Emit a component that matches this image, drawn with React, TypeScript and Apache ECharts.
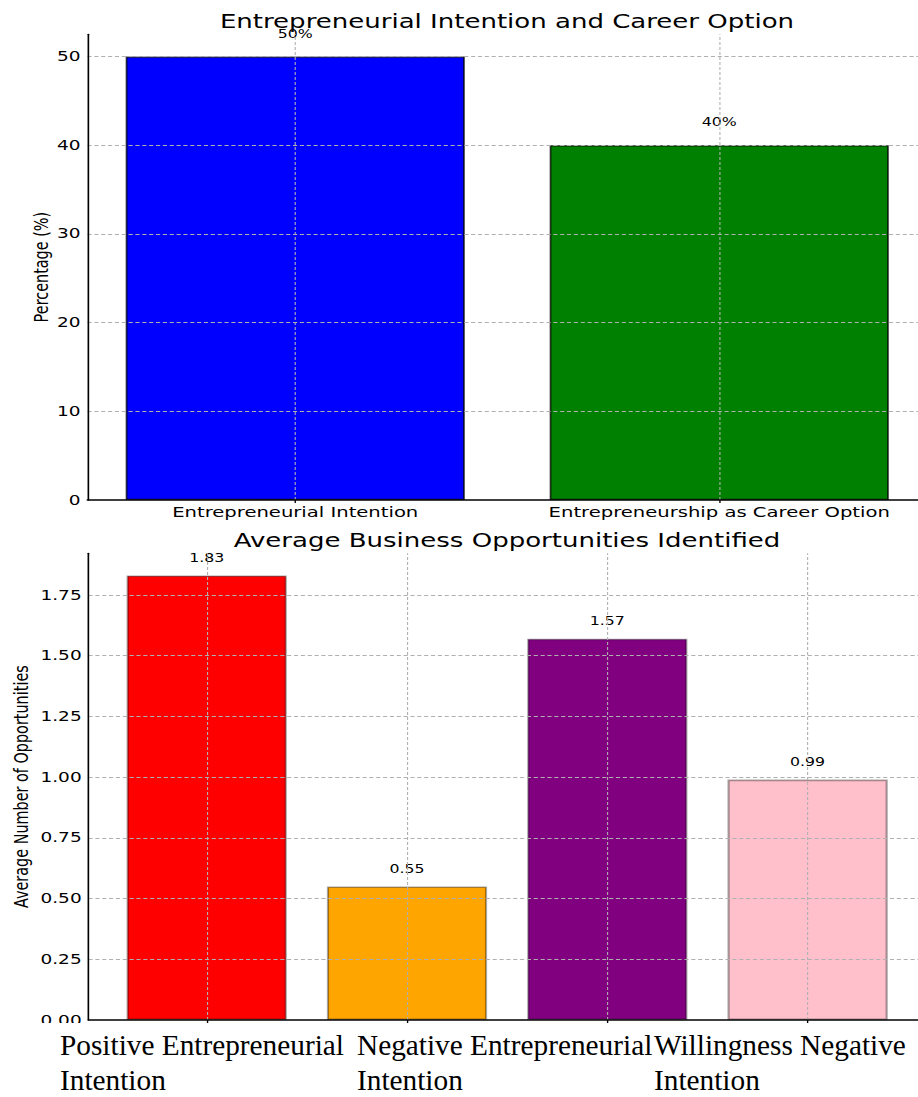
import React, { useEffect, useRef } from 'react';
import * as echarts from 'echarts';

// ---------- data ----------
const topTitle = 'Entrepreneurial Intention and Career Option';
const topCategories = ['Entrepreneurial Intention', 'Entrepreneurship as Career Option'];
const topValues = [50, 40];
const topColors = ['#0000ff', '#008000'];
const topYTicks = [0, 10, 20, 30, 40, 50];
const topYName = 'Percentage (%)';

const bottomTitle = 'Average Business Opportunities Identified';
const bottomCategories = [
  'Positive Entrepreneurial Intention',
  'Negative Entrepreneurial Intention',
  'Willingness',
  'Negative Intention',
];
const bottomValues = [1.83, 0.55, 1.57, 0.99];
const bottomColors = ['#ff0000', '#ffa500', '#800080', '#ffc0cb'];
const bottomYTicks = [0, 0.25, 0.5, 0.75, 1.0, 1.25, 1.5, 1.75];
const bottomYName = 'Average Number of Opportunities';

// caption text block placed under the lower chart
const captionColumns = [
  ['Positive Entrepreneurial', 'Intention'],
  ['Negative Entrepreneurial', 'Intention'],
  ['Willingness Negative', 'Intention'],
];

// ---------- layout (reference pixels; the chart is stretched horizontally) ----------
const S = 1.37;
const PAGE_W = 918;
const W = 950 / S; // chart drawn slightly wider than the page, cropped on the right
const H = 1097;
const sx = (v: number) => v / S;
const FONT = 'DejaVu Sans';

function xExtent(n: number) {
  const lo = -0.4;
  const hi = n - 1 + 0.4;
  const pad = 0.05 * (hi - lo);
  return [lo - pad, hi + pad];
}

export default function App() {
  const ref = useRef<HTMLDivElement>(null);

  useEffect(() => {
    if (!ref.current) return;
    const chart = echarts.init(ref.current, null, { renderer: 'svg' });

    const topExt = xExtent(topCategories.length);
    const botExt = xExtent(bottomCategories.length);
    const topMax = Math.max(...topValues) * 1.05;
    const botMax = Math.max(...bottomValues) * 1.05;

    const grids = [
      { left: sx(87.5), top: 34.3, width: sx(839.5), height: 465.7 },
      { left: sx(88.5), top: 553.3, width: sx(837.3), height: 466.7 },
    ];
    const topUnit = 839.5 / (topExt[1] - topExt[0]);
    const botUnit = 837.3 / (botExt[1] - botExt[0]);

    const gridLineStyle = { color: '#b0b0b0', type: [3, 2] as any, width: 0.8 };

    const markLineFor = (n: number, ticks: number[]) => ({
      silent: true,
      symbol: ['none', 'none'],
      label: { show: false },
      lineStyle: gridLineStyle,
      emphasis: { disabled: true },
      animation: false,
      data: [
        ...Array.from({ length: n }, (_, i) => ({ xAxis: i })),
        ...ticks.filter((t) => t > 0).map((t) => ({ yAxis: t })),
      ],
    });

    const xIdx = (n: number) => Array.from({ length: n }, (_, i) => i);

    const option: any = {
      animation: false,
      backgroundColor: '#ffffff',
      grid: grids,
      xAxis: [
        {
          type: 'value',
          gridIndex: 0,
          min: topExt[0],
          max: topExt[1],
          z: 6,
          axisLine: { show: true, onZero: false, lineStyle: { color: '#000', width: 1.5 } },
          axisTick: { show: true, customValues: xIdx(topCategories.length), length: 3, lineStyle: { color: '#000' } },
          axisLabel: {
            show: true,
            customValues: xIdx(topCategories.length),
            formatter: (v: number) => topCategories[Math.round(v)] ?? '',
            fontFamily: FONT,
            fontSize: 14.3,
            color: '#000',
            margin: 5,
          },
          splitLine: { show: false },
        },
        {
          type: 'value',
          gridIndex: 1,
          min: botExt[0],
          max: botExt[1],
          z: 6,
          axisLine: { show: true, onZero: false, lineStyle: { color: '#000', width: 1.5 } },
          axisTick: { show: true, customValues: xIdx(bottomCategories.length), length: 3, lineStyle: { color: '#000' } },
          axisLabel: { show: false },
          splitLine: { show: false },
        },
      ],
      yAxis: [
        {
          type: 'value',
          gridIndex: 0,
          min: 0,
          max: topMax,
          z: 6,
          name: topYName,
          nameLocation: 'middle',
          nameGap: 27,
          nameMoveOverlap: false,
          nameTextStyle: { fontFamily: FONT, fontSize: 14.4, color: '#000' },
          axisLine: { show: true, onZero: false, lineStyle: { color: '#000', width: 1.2 } },
          axisTick: { show: false },
          axisLabel: {
            customValues: topYTicks,
            formatter: (v: number) => String(v),
            fontFamily: FONT,
            fontSize: 13.5,
            color: '#000',
            margin: 5,
          },
          splitLine: { show: false },
        },
        {
          type: 'value',
          gridIndex: 1,
          min: 0,
          max: botMax,
          z: 6,
          name: bottomYName,
          nameLocation: 'middle',
          nameGap: 42,
          nameMoveOverlap: false,
          nameTextStyle: { fontFamily: FONT, fontSize: 14.4, color: '#000' },
          axisLine: { show: true, onZero: false, lineStyle: { color: '#000', width: 1.2 } },
          axisTick: { show: false },
          axisLabel: {
            customValues: bottomYTicks,
            formatter: (v: number) => v.toFixed(2),
            fontFamily: FONT,
            fontSize: 13.5,
            color: '#000',
            margin: 5,
          },
          splitLine: { show: false },
        },
      ],
      series: [
        {
          type: 'bar',
          xAxisIndex: 0,
          yAxisIndex: 0,
          barWidth: sx(0.8 * topUnit),
          data: topValues.map((v, i) => ({
            name: topCategories[i],
            value: [i, v],
            itemStyle: { color: topColors[i], borderColor: 'rgba(0,0,0,0.75)', borderWidth: 1.3 },
          })),
          label: {
            show: true,
            position: 'top',
            distance: 17,
            formatter: (p: any) => `${p.value[1]}%`,
            fontFamily: FONT,
            fontSize: 11.5,
            color: '#000',
          },
          markLine: markLineFor(topCategories.length, topYTicks),
        },
        {
          type: 'bar',
          xAxisIndex: 1,
          yAxisIndex: 1,
          barWidth: sx(0.8 * botUnit),
          data: bottomValues.map((v, i) => ({
            name: bottomCategories[i],
            value: [i, v],
            itemStyle: { color: bottomColors[i], borderColor: 'rgba(0,0,0,0.35)', borderWidth: 1.6 },
          })),
          label: {
            show: true,
            position: 'top',
            distance: 12,
            formatter: (p: any) => p.value[1].toFixed(2),
            fontFamily: FONT,
            fontSize: 11.5,
            color: '#000',
          },
          markLine: markLineFor(bottomCategories.length, bottomYTicks),
        },
      ],
      graphic: [
        {
          type: 'text',
          x: sx(507),
          y: 12,
          z: 50,
          style: { text: topTitle, fontFamily: FONT, fontSize: 19, fill: '#000', align: 'center', verticalAlign: 'top' },
        },
        {
          type: 'text',
          x: sx(507),
          y: 531,
          z: 50,
          style: { text: bottomTitle, fontFamily: FONT, fontSize: 19, fill: '#000', align: 'center', verticalAlign: 'top' },
        },
        {
          type: 'rect',
          z: 100,
          shape: { x: 0, y: 1023, width: W, height: H - 1023 },
          style: { fill: '#ffffff' },
        },
        ...captionColumns.flatMap((lines, c) =>
          lines.map((t, l) => ({
            type: 'text',
            x: sx(60 + c * 297),
            y: 1045 + l * 35,
            scaleX: 1 / S,
            z: 101,
            style: {
              text: t,
              fontFamily: '"Liberation Serif", "Times New Roman", serif',
              fontSize: 29.3,
              fill: '#000',
              align: 'left',
              verticalAlign: 'middle',
            },
          }))
        ),
      ],
    };

    chart.setOption(option);
    return () => chart.dispose();
  }, []);

  return (
    <div
      style={{
        position: 'absolute',
        left: 0,
        top: 0,
        width: PAGE_W,
        height: H,
        overflow: 'hidden',
        background: '#fff',
      }}
    >
      <div
        ref={ref}
        style={{
          position: 'absolute',
          left: 0,
          top: 0,
          width: W,
          height: H,
          transform: `scaleX(${S})`,
          transformOrigin: '0 0',
        }}
      />
    </div>
  );
}
